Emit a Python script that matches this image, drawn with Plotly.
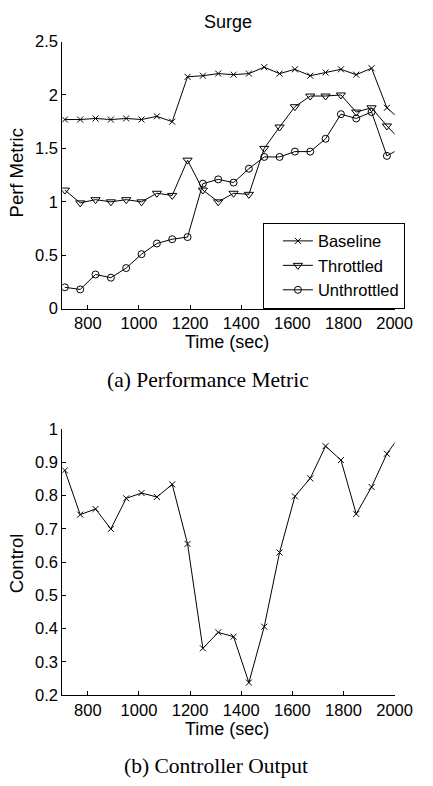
import plotly.graph_objects as go

# ---- data ----
time_sec = [710, 770, 830, 890, 950, 1010, 1070, 1130, 1190, 1250, 1310, 1370,
            1430, 1490, 1550, 1610, 1670, 1730, 1790, 1850, 1910, 1970, 2030]

baseline = [1.77, 1.77, 1.78, 1.77, 1.78, 1.77, 1.80, 1.75, 2.17, 2.18, 2.20, 2.19,
            2.20, 2.26, 2.20, 2.24, 2.18, 2.21, 2.24, 2.19, 2.25, 1.88, 1.75]
throttled = [1.11, 0.99, 1.02, 1.00, 1.02, 1.00, 1.08, 1.06, 1.39, 1.11, 1.00, 1.08,
             1.07, 1.50, 1.70, 1.89, 1.99, 1.99, 2.00, 1.84, 1.88, 1.71, 1.56]
unthrottled = [0.20, 0.18, 0.32, 0.29, 0.38, 0.51, 0.61, 0.65, 0.67, 1.17, 1.21, 1.18,
               1.31, 1.42, 1.42, 1.47, 1.47, 1.59, 1.82, 1.78, 1.84, 1.43, 1.51]
control = [0.876, 0.743, 0.760, 0.700, 0.792, 0.808, 0.796, 0.834, 0.655, 0.341, 0.389, 0.376,
           0.238, 0.406, 0.629, 0.798, 0.852, 0.949, 0.907, 0.745, 0.826, 0.926, 0.99]

x_ticks = [800, 1000, 1200, 1400, 1600, 1800, 2000]
y1_ticks = [0, 0.5, 1, 1.5, 2, 2.5]
y1_labels = ["0", "0.5", "1", "1.5", "2", "2.5"]
y2_ticks = [0.2, 0.3, 0.4, 0.5, 0.6, 0.7, 0.8, 0.9, 1.0]
y2_labels = ["0.2", "0.3", "0.4", "0.5", "0.6", "0.7", "0.8", "0.9", "1"]

W, H = 433, 786
SANS = "Liberation Sans, Arial, Helvetica, sans-serif"
SERIF = "Liberation Serif, Times New Roman, serif"

def py(p):  # pixel from top -> paper y
    return 1 - p / H

def px(p):
    return p / W

fig = go.Figure()
line = dict(color="black", width=1)
fig.add_trace(go.Scatter(x=time_sec, y=baseline, name="Baseline", mode="lines+markers",
                         line=line, marker=dict(symbol="x-thin-open", size=6,
                                                line=dict(color="black", width=1)),
                         xaxis="x", yaxis="y", cliponaxis=True))
fig.add_trace(go.Scatter(x=time_sec, y=throttled, name="Throttled", mode="lines+markers",
                         line=line, marker=dict(symbol="triangle-down-open", size=8, color="black",
                                                line=dict(color="black", width=1)),
                         xaxis="x", yaxis="y", cliponaxis=True))
fig.add_trace(go.Scatter(x=time_sec, y=unthrottled, name="Unthrottled", mode="lines+markers",
                         line=line, marker=dict(symbol="circle-open", size=7, color="black",
                                                line=dict(color="black", width=1)),
                         xaxis="x", yaxis="y", cliponaxis=True))
fig.add_trace(go.Scatter(x=time_sec, y=control, name="Control", mode="lines+markers",
                         line=line, marker=dict(symbol="x-thin-open", size=6,
                                                line=dict(color="black", width=1)),
                         xaxis="x2", yaxis="y2", showlegend=False, cliponaxis=True))

xdom = [px(65), px(411.7)]
axis_common = dict(showline=True, linecolor="black", linewidth=1, ticks="inside",
                   ticklen=4, tickcolor="black", tickwidth=1, showgrid=False,
                   zeroline=False, mirror=False,
                   tickfont=dict(family=SANS, size=16.5, color="black"))

fig.update_layout(
    width=W, height=H, autosize=False,
    margin=dict(l=0, r=0, t=0, b=0),
    paper_bgcolor="white", plot_bgcolor="white",
    xaxis=dict(domain=xdom, range=[700, 2000], tickvals=x_ticks, anchor="y",
               **axis_common),
    yaxis=dict(domain=[py(306.7), py(33.3)], range=[0, 2.5], tickvals=y1_ticks,
               ticktext=y1_labels, anchor="x", **axis_common),
    xaxis2=dict(domain=xdom, range=[700, 2000], tickvals=x_ticks, anchor="y2",
                **axis_common),
    yaxis2=dict(domain=[py(702.3), py(430)], range=[0.2, 1.0], tickvals=y2_ticks,
                ticktext=y2_labels, anchor="x2", **axis_common),
    legend=dict(x=px(422.5), xanchor="right", y=py(306.7), yanchor="bottom",
                bgcolor="white", bordercolor="black", borderwidth=1, indentation=14,
                font=dict(family=SANS, size=16.5, color="black"), tracegroupgap=0),
    showlegend=True,
)

ann = [
    dict(text="Surge", x=px(238), y=py(13), font=dict(family=SANS, size=18)),
    dict(text="Perf Metric", x=px(17), y=py(168), textangle=-90, font=dict(family=SANS, size=18.5)),
    dict(text="Time (sec)", x=px(237), y=py(341), font=dict(family=SANS, size=18)),
    dict(text="(a) Performance Metric", x=px(216.5), y=py(380), font=dict(family=SERIF, size=21.5)),
    dict(text="Control", x=px(17), y=py(567), textangle=-90, font=dict(family=SANS, size=18.5)),
    dict(text="Time (sec)", x=px(237), y=py(737), font=dict(family=SANS, size=18)),
    dict(text="(b) Controller Output", x=px(225), y=py(775), font=dict(family=SERIF, size=21.5)),
]
for a in ann:
    a.update(xref="paper", yref="paper", showarrow=False, xanchor="center", yanchor="middle")
    a["font"]["color"] = "black"
fig.update_layout(annotations=ann)

fig.write_html("out.html", config={"displayModeBar": False},
               post_script="document.body.style.margin='0';")
